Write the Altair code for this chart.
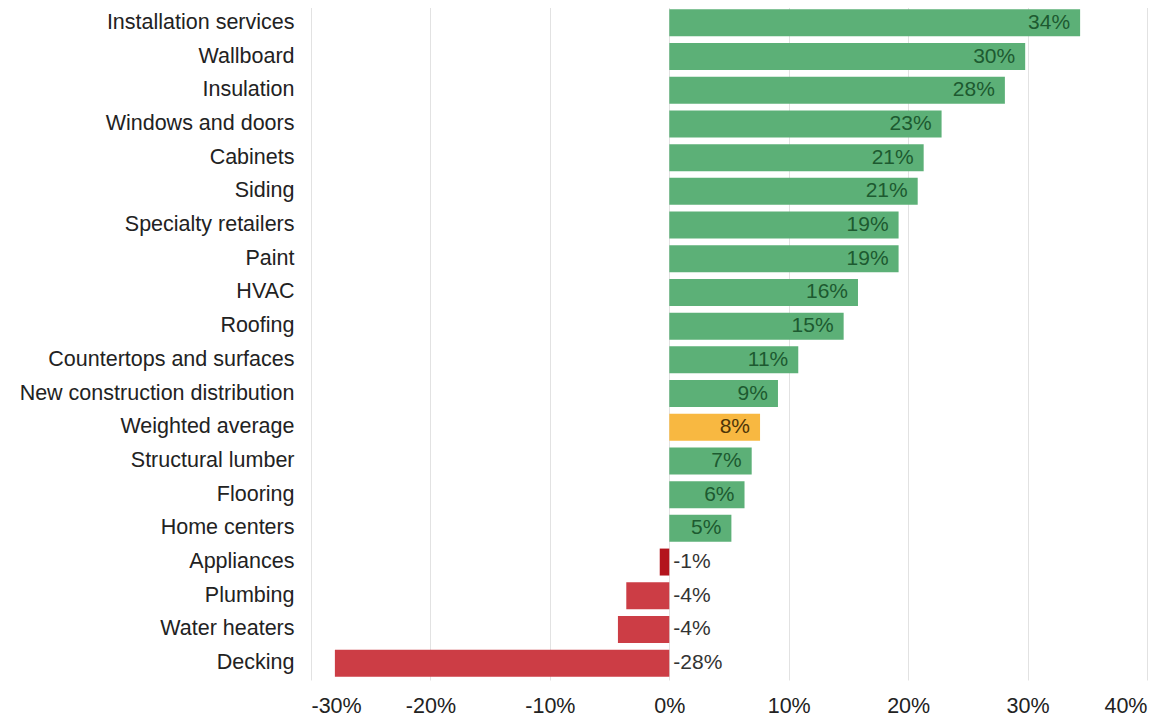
import altair as alt
import pandas as pd

categories = [
    "Installation services", "Wallboard", "Insulation", "Windows and doors",
    "Cabinets", "Siding", "Specialty retailers", "Paint", "HVAC", "Roofing",
    "Countertops and surfaces", "New construction distribution",
    "Weighted average", "Structural lumber", "Flooring", "Home centers",
    "Appliances", "Plumbing", "Water heaters", "Decking",
]
values = [0.344, 0.298, 0.281, 0.228, 0.213, 0.208, 0.192, 0.192, 0.158, 0.146,
          0.108, 0.091, 0.076, 0.069, 0.063, 0.052, -0.008, -0.036, -0.043, -0.280]
groups = ["up"] * 12 + ["avg"] + ["up"] * 3 + ["down_dark", "down", "down", "down"]
labels = ["34%", "30%", "28%", "23%", "21%", "21%", "19%", "19%", "16%", "15%",
          "11%", "9%", "8%", "7%", "6%", "5%", "-1%", "-4%", "-4%", "-28%"]
x_ticks = [-0.3, -0.2, -0.1, 0.0, 0.1, 0.2, 0.3, 0.4]

group_names = ["up", "avg", "down", "down_dark"]
bar_colors = ["#5cb077", "#f8b841", "#cc3d45", "#b3141c"]
text_colors = ["#1d5a30", "#4d3508", "#333333", "#333333"]

df = pd.DataFrame({"category": categories, "value": values, "group": groups, "label": labels})
df["tcolor"] = df["group"].map(dict(zip(group_names, text_colors)))

FONT = "Liberation Sans"

y_enc = alt.Y(
    "category:N", sort=categories, title=None,
    scale=alt.Scale(paddingInner=0.2, paddingOuter=0.1),
    axis=alt.Axis(domain=False, ticks=False, grid=False, labelFont=FONT,
                  labelFontSize=21.5, labelColor="#222222", labelPadding=17,
                  labelLimit=400),
)
x_enc = alt.X(
    "value:Q", title=None,
    scale=alt.Scale(domain=[-0.3, 0.4], nice=False, zero=False),
    axis=alt.Axis(values=x_ticks, format=".0%",
                  labelExpr="replace(datum.label, '\u2212', '-')",
                  domain=False, ticks=False,
                  grid=True, gridColor="#e2e2e2", gridWidth=1,
                  labelFont=FONT, labelFontSize=21.5, labelColor="#222222",
                  labelPadding=15),
)

bars = alt.Chart(df).mark_bar().encode(
    x=x_enc,
    x2=alt.datum(0),
    y=y_enc,
    color=alt.Color("group:N", scale=alt.Scale(domain=group_names, range=bar_colors), legend=None),
)

pos_text = alt.Chart(df).transform_filter("datum.value > 0").mark_text(
    align="right", baseline="middle", dx=-10, font=FONT, fontSize=21
).encode(
    x=alt.X("value:Q"),
    y=alt.Y("category:N", sort=categories),
    text="label:N",
    color=alt.Color("tcolor:N", scale=None),
)

neg_text = alt.Chart(df).transform_filter("datum.value < 0").mark_text(
    align="left", baseline="middle", dx=4, font=FONT, fontSize=21
).encode(
    x=alt.datum(0),
    y=alt.Y("category:N", sort=categories),
    text="label:N",
    color=alt.Color("tcolor:N", scale=None),
)

chart = alt.layer(bars, pos_text, neg_text).properties(
    width=836, height=674,
    autosize=alt.AutoSizeParams(type="none"),
    padding={"left": 303, "top": -2, "right": 21, "bottom": 36},
).configure(background="white").configure_view(stroke=None)

chart.save("out.html", embed_options={"renderer": "svg", "actions": False})
